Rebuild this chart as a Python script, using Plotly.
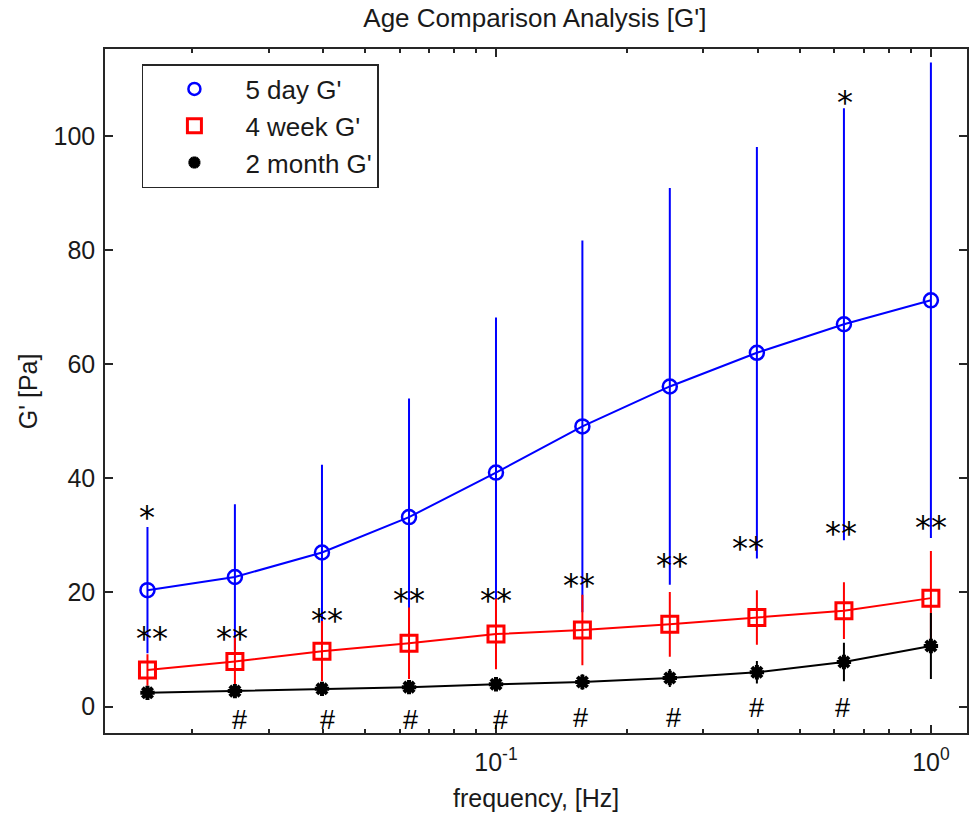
import numpy as np
import plotly.graph_objects as go

# ---------------- data ----------------
freq = [0.0158, 0.0251, 0.0398, 0.0631, 0.1, 0.158, 0.251, 0.398, 0.631, 1.0]

g_5day = [20.4, 22.7, 27.0, 33.2, 41.0, 49.1, 56.1, 62.0, 67.0, 71.2]
g_5day_sd = [10.9, 12.6, 15.2, 20.6, 27.0, 32.4, 34.6, 35.9, 37.7, 41.5]

g_4week = [6.4, 7.9, 9.7, 11.1, 12.7, 13.4, 14.4, 15.6, 16.8, 19.0]
g_4week_sd = [2.6, 4.0, 5.1, 6.1, 6.0, 6.0, 5.5, 4.6, 4.8, 8.1]

g_2month = [2.4, 2.7, 3.1, 3.4, 3.9, 4.3, 5.0, 6.0, 7.8, 10.6]
g_2month_sd = [0.8, 0.8, 0.9, 1.0, 1.0, 1.2, 1.4, 1.8, 3.2, 5.6]

series_names = ["5 day G'", "4 week G'", "2 month G'"]

# significance marks (frequency, G' position, label)
star1_x = [0.01574, 0.635]
star1_y = [34.1, 106.8]
star2_x = [0.0162, 0.0247, 0.0409, 0.0631, 0.1, 0.155, 0.2535, 0.380, 0.622, 1.0]
star2_y = [12.9, 12.9, 16.0, 19.5, 19.5, 22.2, 25.7, 28.7, 31.3, 32.3]
hash_x = [0.0257, 0.0409, 0.0635, 0.1023, 0.1567, 0.256, 0.398, 0.625]
hash_y = [-2.4, -2.4, -2.4, -2.4, -2.0, -2.0, -0.3, -0.3]

x_tickvals = [0.1, 1.0]
x_ticktext = ["10<sup>-1</sup>", "10<sup>0</sup>"]
x_minor = [m * d for d in (0.01, 0.1) for m in range(2, 10)]
y_tickvals = [0, 20, 40, 60, 80, 100]

# ---------------- style ----------------
FONT = "Liberation Sans, Arial, Helvetica, sans-serif"
AX = "#262626"
TXT = "#1a1a1a"
BLUE, RED, BLACK = "#0000ff", "#ff0000", "#000000"

fig = go.Figure()

specs = [
    (g_5day, g_5day_sd, BLUE, "circle-open", 14, 2.5),
    (g_4week, g_4week_sd, RED, "square-open", 16, 3),
    (g_2month, g_2month_sd, BLACK, "asterisk-open", 12, 4),
]

for (yv, sd, col, sym, sz, lw), name in zip(specs, series_names):
    fig.add_trace(go.Scatter(
        x=freq, y=yv, mode="lines+markers", showlegend=False,
        line=dict(color=col, width=2),
        marker=dict(symbol=sym, size=sz, color=col, line=dict(color=col, width=lw)),
        error_y=dict(type="data", array=sd, visible=True, color=col,
                     thickness=2, width=1),
    ))

for (yv, sd, col, sym, sz, lw), name in zip(specs, series_names):
    fig.add_trace(go.Scatter(
        x=[None], y=[None], mode="markers", name=name, showlegend=True,
        marker=dict(symbol=sym, size=sz - 2, color=col, line=dict(color=col, width=lw)),
    ))

annotations = []
for xs, ys, txt in ((star1_x, star1_y, "*"), (star2_x, star2_y, "**")):
    for xv, yv in zip(xs, ys):
        annotations.append(dict(
            x=float(np.log10(xv)), y=yv, xref="x", yref="y", text=txt,
            showarrow=False, xanchor="center", yanchor="middle", yshift=-5,
            font=dict(family="DejaVu Sans", size=32, color="black")))
for xv, yv in zip(hash_x, hash_y):
    annotations.append(dict(
        x=float(np.log10(xv)), y=yv, xref="x", yref="y", text="#",
        showarrow=False, xanchor="center", yanchor="middle",
        font=dict(family=FONT, size=27, color="black")))

# axis titles
annotations.append(dict(
    x=(28 - 105) / 864, y=0.5, xref="paper", yref="paper", text="G' [Pa]",
    textangle=-90, showarrow=False, xanchor="center", yanchor="middle",
    font=dict(family=FONT, size=25, color=TXT)))
annotations.append(dict(
    x=0.5, y=(733 - 798) / 684, xref="paper", yref="paper", text="frequency, [Hz]",
    showarrow=False, xanchor="center", yanchor="middle",
    font=dict(family=FONT, size=25, color=TXT)))

fig.update_layout(
    width=969, height=816,
    margin=dict(l=105, r=0, t=49, b=83),
    paper_bgcolor="white", plot_bgcolor="white",
    font=dict(family=FONT, size=24, color=TXT),
    title=dict(text="Age Comparison Analysis [G']", x=0.552, xref="container",
               y=1 - 18 / 816, yref="container", xanchor="center", yanchor="middle",
               font=dict(family=FONT, size=26, color=TXT)),
    annotations=annotations,
    legend=dict(x=(142 - 105) / 864, y=(733 - 64) / 684, xanchor="left", yanchor="top",
                bgcolor="white", bordercolor=AX, borderwidth=1.5,
                font=dict(family=FONT, size=26, color=TXT),
                itemwidth=92, tracegroupgap=0),
    xaxis=dict(type="log", range=[-1.899, 0.083], showgrid=False, zeroline=False,
               showline=True, linecolor=AX, linewidth=1.5, mirror="ticks",
               ticks="inside", ticklen=8, tickwidth=1.5, tickcolor=AX,
               tickmode="array", tickvals=x_tickvals, ticktext=x_ticktext,
               ticklabelstandoff=6,
               tickfont=dict(family=FONT, size=25, color=TXT),
               minor=dict(tickmode="array", tickvals=x_minor, ticks="inside",
                          ticklen=4, tickwidth=1.5, tickcolor=AX, showgrid=False)),
    yaxis=dict(range=[-4.64, 115.25], showgrid=False, zeroline=False,
               showline=True, linecolor=AX, linewidth=1.5, mirror="ticks",
               ticks="inside", ticklen=8, tickwidth=1.5, tickcolor=AX,
               tickmode="array", tickvals=y_tickvals, ticklabelstandoff=3,
               tickfont=dict(family=FONT, size=25, color=TXT)),
)

fig.write_html("out.html")
